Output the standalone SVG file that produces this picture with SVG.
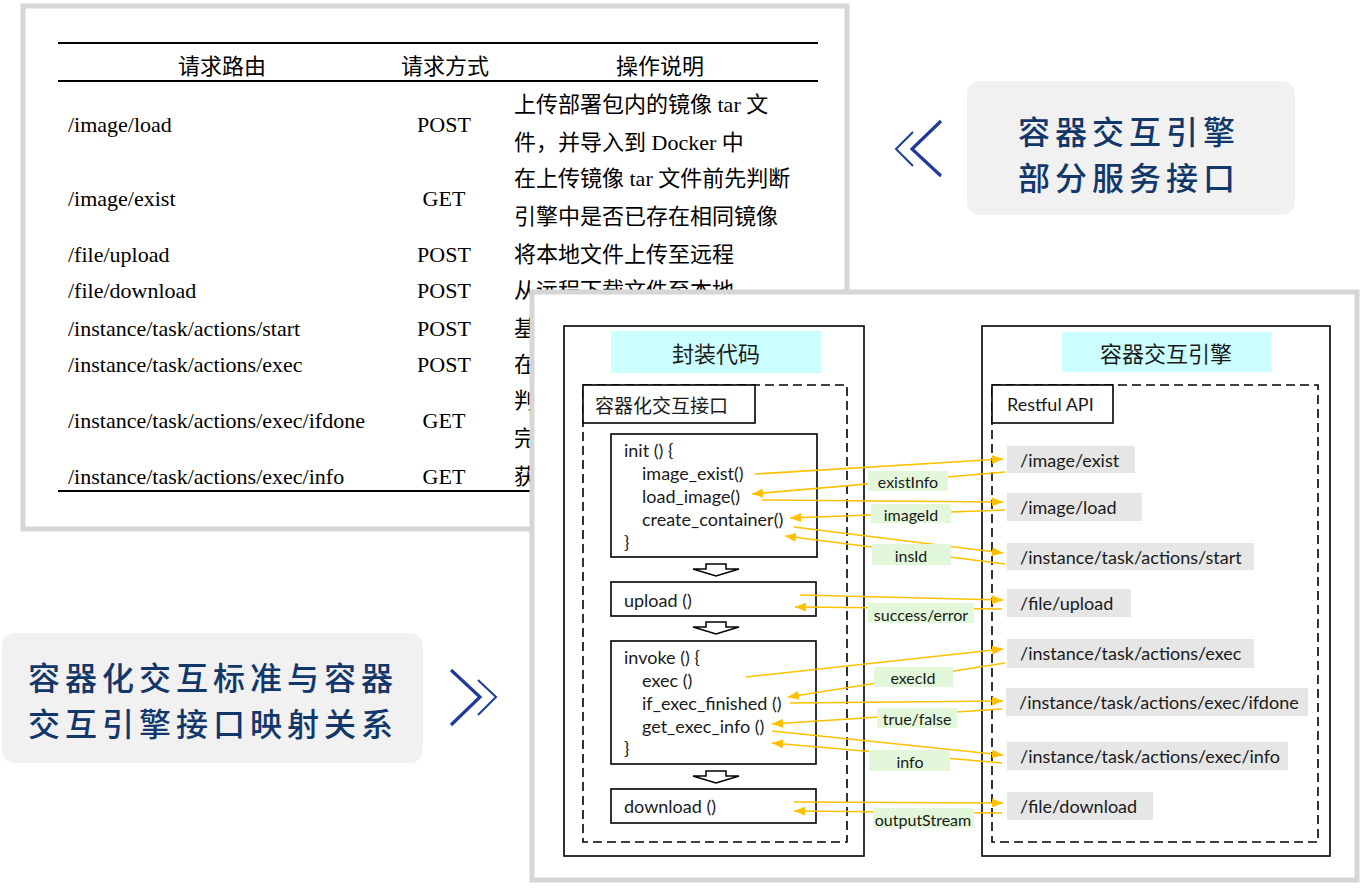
<svg xmlns="http://www.w3.org/2000/svg" width="1372" height="896" viewBox="0 0 1372 896">
<defs>
<style>
.card{fill:#fff;stroke:#d6d6d6;stroke-width:5}
.ser{font-family:"Liberation Serif","Noto Sans CJK SC",serif;font-size:22px;fill:#000}
.cjk{font-family:"Liberation Serif","Noto Sans CJK SC",serif;font-size:22px;fill:#000}
.rule{stroke:#000;stroke-width:2}
.box{fill:#fff;stroke:#000;stroke-width:1.6}
.dash{fill:none;stroke:#000;stroke-width:1.6;stroke-dasharray:9 5}
.cyan{fill:#ccffff}
.ttl{font-family:"Noto Sans CJK SC",sans-serif;font-size:22px;fill:#1a1a1a}
.lbl{font-family:"Noto Sans CJK SC",sans-serif;font-size:19px;fill:#1a1a1a}
.code{font-family:Lato,"Noto Sans",sans-serif;font-size:18px;fill:#1a1a1a}
.api{fill:#e6e6e6}
.apit{font-family:Lato,"Noto Sans",sans-serif;font-size:18px;fill:#1a1a1a}
.gr{fill:#e3f8da}
.grt{font-family:Lato,"Noto Sans",sans-serif;font-size:16px;fill:#1a1a1a;text-anchor:middle}
.con{stroke:#ffc000;stroke-width:1.6;fill:none;marker-end:url(#ah)}
.harrow{fill:#fff;stroke:#000;stroke-width:1.5}
.pill{fill:#f1f1f1}
.big{font-family:"Noto Sans CJK SC",sans-serif;font-size:32px;font-weight:500;letter-spacing:5px;fill:#12386b}
.chev{fill:none;stroke:#1f3c98}
</style>
<marker id="ah" markerWidth="11" markerHeight="9" refX="11" refY="4.5" orient="auto" markerUnits="userSpaceOnUse">
<path d="M0,0 L11,4.5 L0,9 Z" fill="#ffc000"/>
</marker>
</defs>
<rect width="1372" height="896" fill="#fff"/>

<g id="table-card">
<rect class="card" x="23" y="6" width="824" height="523"/>
<line class="rule" x1="58" y1="43" x2="818" y2="43"/>
<line class="rule" x1="58" y1="81" x2="818" y2="81"/>
<line class="rule" x1="58" y1="491" x2="818" y2="491"/>
<g dominant-baseline="central">
<text class="cjk" x="222" y="66" text-anchor="middle">请求路由</text>
<text class="cjk" x="445" y="66" text-anchor="middle">请求方式</text>
<text class="cjk" x="660" y="66" text-anchor="middle">操作说明</text>

<text class="ser" x="68" y="124">/image/load</text>
<text class="ser" x="444" y="124" text-anchor="middle">POST</text>
<text class="cjk" x="514" y="104">上传部署包内的镜像 tar 文</text>
<text class="cjk" x="514" y="142">件，并导入到 Docker 中</text>

<text class="ser" x="68" y="198">/image/exist</text>
<text class="ser" x="444" y="198" text-anchor="middle">GET</text>
<text class="cjk" x="514" y="178">在上传镜像 tar 文件前先判断</text>
<text class="cjk" x="514" y="216">引擎中是否已存在相同镜像</text>

<text class="ser" x="68" y="254">/file/upload</text>
<text class="ser" x="444" y="254" text-anchor="middle">POST</text>
<text class="cjk" x="514" y="254">将本地文件上传至远程</text>

<text class="ser" x="68" y="290">/file/download</text>
<text class="ser" x="444" y="290" text-anchor="middle">POST</text>
<text class="cjk" x="514" y="290">从远程下载文件至本地</text>

<text class="ser" x="68" y="328">/instance/task/actions/start</text>
<text class="ser" x="444" y="328" text-anchor="middle">POST</text>
<text class="cjk" x="514" y="328">基</text>

<text class="ser" x="68" y="364">/instance/task/actions/exec</text>
<text class="ser" x="444" y="364" text-anchor="middle">POST</text>
<text class="cjk" x="514" y="364">在</text>

<text class="ser" x="68" y="420">/instance/task/actions/exec/ifdone</text>
<text class="ser" x="444" y="420" text-anchor="middle">GET</text>
<text class="cjk" x="514" y="400">判</text>
<text class="cjk" x="514" y="438">完</text>

<text class="ser" x="68" y="476">/instance/task/actions/exec/info</text>
<text class="ser" x="444" y="476" text-anchor="middle">GET</text>
<text class="cjk" x="514" y="476">获</text>
</g>
</g>

<g id="label-engine-api">
<rect class="pill" x="967" y="81" width="328" height="134" rx="13"/>
<text class="big" x="1129" y="130" text-anchor="middle" dominant-baseline="central">容器交互引擎</text>
<text class="big" x="1129" y="176" text-anchor="middle" dominant-baseline="central">部分服务接口</text>
<polyline class="chev" stroke-width="3.2" points="941,121 912,149 941,176"/>
<polyline class="chev" stroke-width="2" points="913,132 896,149 913,166"/>
</g>

<g id="label-mapping">
<rect class="pill" x="2" y="633" width="421" height="130" rx="13"/>
<text class="big" x="213" y="676" text-anchor="middle" dominant-baseline="central">容器化交互标准与容器</text>
<text class="big" x="213" y="722" text-anchor="middle" dominant-baseline="central">交互引擎接口映射关系</text>
<polyline class="chev" stroke-width="3.2" points="451,670 480,697 451,725"/>
<polyline class="chev" stroke-width="2" points="478,680 496,697 478,715"/>
</g>

<g id="mapping-card">
<rect class="card" x="532" y="292" width="825" height="588"/>
</g>

<g id="wrapper">
<rect class="box" x="564" y="326" width="300" height="530"/>
<rect class="cyan" x="611" y="331" width="210" height="42"/>
<text class="ttl" x="716" y="352" text-anchor="middle" dominant-baseline="central">封装代码</text>
<rect class="dash" x="583" y="385" width="264" height="457"/>
<rect class="box" x="583" y="385" width="172" height="38"/>
<text class="lbl" x="595" y="404" dominant-baseline="central">容器化交互接口</text>
</g>

<g id="init">
<rect class="box" x="611" y="434" width="206" height="123"/>
<g class="code" dominant-baseline="central">
<text x="624" y="450">init () {</text>
<text x="642" y="473">image_exist()</text>
<text x="642" y="496">load_image()</text>
<text x="642" y="519">create_container()</text>
<text x="624" y="542">}</text>
</g>
</g>
<g id="upload">
<rect class="box" x="611" y="582" width="205" height="34"/>
<text class="code" x="624" y="600" dominant-baseline="central">upload ()</text>
</g>
<g id="invoke">
<rect class="box" x="611" y="641" width="205" height="123"/>
<g class="code" dominant-baseline="central">
<text x="624" y="657">invoke () {</text>
<text x="642" y="680">exec ()</text>
<text x="642" y="703">if_exec_finished ()</text>
<text x="642" y="726">get_exec_info ()</text>
<text x="624" y="748">}</text>
</g>
</g>
<g id="download">
<rect class="box" x="611" y="789" width="205" height="34"/>
<text class="code" x="624" y="806" dominant-baseline="central">download ()</text>
</g>
<g id="flow-arrows">
<path class="harrow" d="M706,564 H726 V569 H739 L716,576 L693,569 H706 Z"/>
<path class="harrow" d="M706,622 H726 V627 H739 L716,634 L693,627 H706 Z"/>
<path class="harrow" d="M706,771 H726 V776 H739 L716,783 L693,776 H706 Z"/>
</g>

<g id="engine">
<rect class="box" x="982" y="326" width="348" height="530"/>
<rect class="cyan" x="1062" y="332" width="209" height="40"/>
<text class="ttl" x="1166" y="352" text-anchor="middle" dominant-baseline="central">容器交互引擎</text>
<rect class="dash" x="992" y="385" width="326" height="457"/>
<rect class="box" x="992" y="385" width="121" height="38"/>
<text class="apit" x="1007" y="404" dominant-baseline="central">Restful API</text>
</g>

<g id="api-image-exist"><rect class="api" x="1007" y="446" width="128" height="27"/><text class="apit" x="1020" y="460" dominant-baseline="central">/image/exist</text></g>
<g id="api-image-load"><rect class="api" x="1007" y="493" width="135" height="28"/><text class="apit" x="1020" y="507" dominant-baseline="central">/image/load</text></g>
<g id="api-start"><rect class="api" x="1007" y="543" width="247" height="27"/><text class="apit" x="1020" y="557" dominant-baseline="central">/instance/task/actions/start</text></g>
<g id="api-file-upload"><rect class="api" x="1007" y="589" width="124" height="28"/><text class="apit" x="1020" y="603" dominant-baseline="central">/file/upload</text></g>
<g id="api-exec"><rect class="api" x="1007" y="639" width="247" height="29"/><text class="apit" x="1020" y="653" dominant-baseline="central">/instance/task/actions/exec</text></g>
<g id="api-ifdone"><rect class="api" x="1006" y="688" width="302" height="28"/><text class="apit" x="1019" y="702" dominant-baseline="central">/instance/task/actions/exec/ifdone</text></g>
<g id="api-info"><rect class="api" x="1007" y="742" width="281" height="28"/><text class="apit" x="1020" y="756" dominant-baseline="central">/instance/task/actions/exec/info</text></g>
<g id="api-file-download"><rect class="api" x="1007" y="792" width="146" height="28"/><text class="apit" x="1020" y="806" dominant-baseline="central">/file/download</text></g>

<g id="connectors">
<line class="con" x1="755" y1="474" x2="1003" y2="459"/>
<line class="con" x1="1005" y1="472" x2="752" y2="494"/>
<line class="con" x1="762" y1="500" x2="1003" y2="502"/>
<line class="con" x1="1005" y1="510" x2="790" y2="518"/>
<line class="con" x1="794" y1="527" x2="1003" y2="553"/>
<line class="con" x1="1005" y1="564" x2="785" y2="536"/>
<line class="con" x1="800" y1="595" x2="1003" y2="600"/>
<line class="con" x1="1002" y1="609" x2="795" y2="607"/>
<line class="con" x1="746" y1="677" x2="1003" y2="649"/>
<line class="con" x1="1005" y1="663" x2="788" y2="697"/>
<line class="con" x1="790" y1="703" x2="1003" y2="701"/>
<line class="con" x1="1002" y1="709" x2="772" y2="724"/>
<line class="con" x1="772" y1="731" x2="1003" y2="755"/>
<line class="con" x1="1002" y1="763" x2="772" y2="743"/>
<line class="con" x1="794" y1="802" x2="1003" y2="803"/>
<line class="con" x1="1002" y1="813" x2="794" y2="811"/>
</g>

<g id="connector-labels">
<rect class="gr" x="868" y="471" width="80" height="20"/><text class="grt" x="908" y="481" dominant-baseline="central">existInfo</text>
<rect class="gr" x="871" y="504" width="80" height="19"/><text class="grt" x="911" y="514" dominant-baseline="central">imageId</text>
<rect class="gr" x="872" y="544" width="79" height="21"/><text class="grt" x="911" y="555" dominant-baseline="central">insId</text>
<rect class="gr" x="868" y="603" width="106" height="20"/><text class="grt" x="921" y="614" dominant-baseline="central">success/error</text>
<rect class="gr" x="874" y="667" width="79" height="20"/><text class="grt" x="913" y="677" dominant-baseline="central">execId</text>
<rect class="gr" x="877" y="708" width="80" height="20"/><text class="grt" x="917" y="718" dominant-baseline="central">true/false</text>
<rect class="gr" x="869" y="750" width="81" height="21"/><text class="grt" x="910" y="761" dominant-baseline="central">info</text>
<rect class="gr" x="873" y="808" width="101" height="20"/><text class="grt" x="923" y="819" dominant-baseline="central">outputStream</text>
</g>
</svg>
